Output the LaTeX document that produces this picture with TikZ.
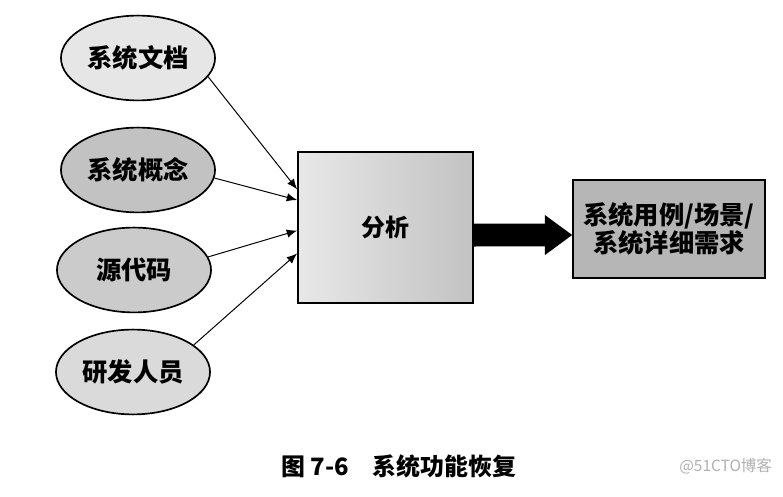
\documentclass[tikz,border=0pt]{standalone}
\usepackage{fontspec}
\usepackage{xcolor}
\usepackage{tikz}
\usetikzlibrary{shapes.geometric,arrows.meta,positioning,calc}
\newfontfamily\cjk{Noto Sans CJK SC}
\definecolor{paleFill}{HTML}{E6E6E6}
\definecolor{darkFill}{HTML}{C2C2C2}
\definecolor{midFill}{HTML}{CBCBCB}
\definecolor{softFill}{HTML}{DADADA}
\definecolor{boxFill}{HTML}{B6B6B6}
\definecolor{markGray}{HTML}{B0B0B0}

\begin{document}
\begin{tikzpicture}[
  x=0.025cm, y=-0.025cm,
  src/.style={ellipse, draw, line width=1.2pt, minimum width=3.85cm, minimum height=2.12cm,
              inner sep=0pt, font=\cjk\bfseries\fontsize{18}{20}\selectfont},
  box/.style={rectangle, draw, line width=1.2pt, align=center, inner sep=2pt,
              font=\cjk\bfseries\fontsize{18}{20}\selectfont},
  arr/.style={-{Latex[length=2.6mm,width=2.1mm]}, line width=0.7pt},
  bigarr/.style={-{Triangle[length=6.8mm,width=10mm,line width=0pt]}, line width=5.7mm}
]
\useasboundingbox (0,0) rectangle (783,497);

% ---- Sources ----
\node[src, fill=paleFill] (doc) at (138,58) {系统文档};
\node[src, fill=darkFill] (concept) at (138,170) {系统概念};
\node[src, fill=midFill] (code) at (134,270) {源代码};
\node[src, fill=softFill] (dev) at (133,372) {研发人员};

% ---- Analysis and result ----
\node[box, left color=gray!18, right color=darkFill, draw=black, font=\cjk\bfseries\fontsize{17}{20}\selectfont,
      minimum width=4.375cm, minimum height=3.775cm] (ana) at (385.5,227.5) {分析};
\node[box, fill=boxFill, minimum width=4.8cm, minimum height=2.45cm] (res) at (669,229)
  {系统用例/场景/\\系统详细需求};

\draw[arr] (doc.-15) -- ($(ana.north west)!0.25!(ana.south west)$);
\draw[arr] (concept.-6) -- ($(ana.north west)!0.32!(ana.south west)$);
\draw[arr] (code.10) -- ($(ana.north west)!0.52!(ana.south west)$);
\draw[arr] (dev.24) -- ($(ana.north west)!0.67!(ana.south west)$);
\draw[bigarr] ([yshift=-0.19cm]ana.east) -- ([yshift=-0.15cm]res.west);

% ---- Caption ----
\node[anchor=west, inner sep=0pt, font=\cjk\bfseries\fontsize{17}{20}\selectfont] (cap) at (281,466)
  {图 7-6\quad 系统功能恢复};
\node[anchor=west, inner sep=0pt, text=markGray, font=\cjk\fontsize{11}{13}\selectfont] (mark) at (679,466)
  {@51CTO博客};

\end{tikzpicture}
\end{document}
